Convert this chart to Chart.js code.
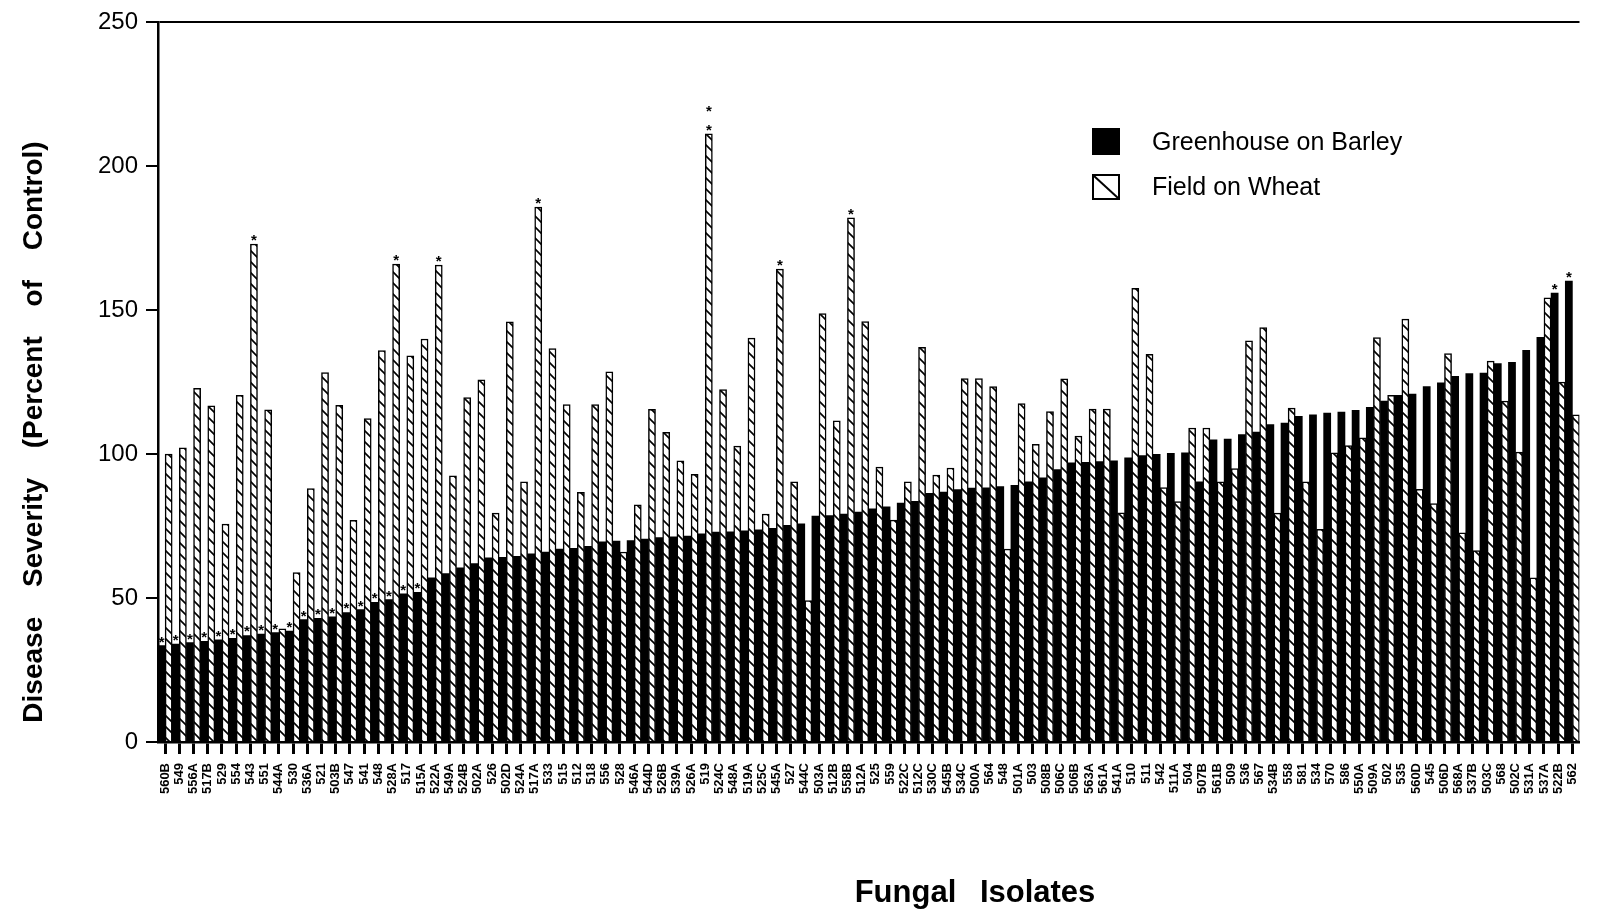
<!DOCTYPE html>
<html>
<head>
<meta charset="utf-8">
<title>Disease Severity of Fungal Isolates</title>
<script src="https://cdn.jsdelivr.net/npm/chart.js@4.4.0/dist/chart.umd.min.js"></script>
<style>
  html, body { margin: 0; padding: 0; background: #fff; }
  #wrap { width: 1597px; height: 910px; }
</style>
</head>
<body>
<div id="wrap"><canvas id="chart" width="1597" height="910"></canvas></div>
<script>
const isolates = [
  "560B", "549", "556A", "517B", "529", "554", "543", "551", "544A", "530",
  "536A", "521", "503B", "547", "541", "548", "528A", "517", "515A", "522A",
  "549A", "524B", "502A", "526", "502D", "524A", "517A", "533", "515", "512",
  "518", "556", "528", "546A", "544D", "526B", "539A", "526A", "519", "524C",
  "548A", "519A", "525C", "545A", "527", "544C", "503A", "512B", "558B", "512A",
  "525", "559", "522C", "512C", "530C", "545B", "534C", "500A", "564", "548",
  "501A", "503", "508B", "506C", "506B", "563A", "561A", "541A", "510", "511",
  "542", "511A", "504", "507B", "561B", "509", "536", "567", "534B", "558",
  "581", "534", "570", "586", "550A", "509A", "502", "535", "560D", "545",
  "506D", "568A", "537B", "503C", "568", "502C", "531A", "537A", "522B", "562"
];

// Greenhouse on Barley (black bars)
const greenhouseBarley = [
  33.5, 34, 34.5, 35, 35.5, 36, 37, 37.5, 38, 38.5,
  42.5, 43, 43.5, 45, 46, 48.5, 49.5, 51.5, 52, 57,
  58.5, 60.5, 62, 64, 64.2, 64.5, 65.4, 66, 67, 67.3,
  68, 69.5, 69.8, 70, 70.5, 71, 71.3, 71.5, 72.3, 72.9,
  73, 73.4, 73.7, 74.2, 75.3, 75.8, 78.5, 78.7, 79.2, 79.9,
  81, 81.7, 83, 83.6, 86.4, 86.8, 87.7, 88.2, 88.3, 88.7,
  89.2, 90.4, 91.8, 94.6, 97, 97.2, 97.4, 97.7, 98.7, 99.5,
  99.9, 100.3, 100.5, 90.4, 105, 105.2, 106.8, 107.7, 110.3, 110.8,
  113.1, 113.7, 114.3, 114.6, 115.2, 116.3, 118.4, 120.4, 120.9, 123.5,
  124.8, 127, 128, 128.2, 131.5, 131.9, 136.1, 140.6, 156, 160.1
];

// Field on Wheat (hatched bars)
const fieldWheat = [
  100, 102.2, 122.9, 116.8, 75.7, 120.4, 173, 115.4, 39.3, 58.9,
  88, 128.3, 117, 77, 112.4, 136, 166, 134.2, 140, 165.7,
  92.5, 119.7, 125.8, 79.5, 146, 90.4, 185.8, 136.7, 117.2, 86.7,
  117.2, 128.6, 66, 82.4, 115.6, 107.6, 97.7, 93, 211.3, 122.4,
  102.8, 140.3, 79.2, 164.3, 90.4, 49.1, 148.8, 111.6, 182.1, 146.1,
  95.5, 77.1, 90.4, 137.1, 92.7, 95.2, 126.3, 126.3, 123.5, 67,
  117.6, 103.4, 114.8, 126.2, 106.3, 115.7, 115.7, 79.6, 157.6, 134.7,
  88.4, 83.5, 109.1, 109.1, 90.4, 95, 139.4, 144, 79.5, 116,
  90.4, 73.9, 100.5, 103, 105.7, 140.5, 120.4, 146.9, 87.8, 82.8,
  134.9, 72.7, 66.5, 132.3, 118.4, 100.7, 57, 154.3, 125, 113.7
];

// bars marked with an asterisk (index into isolates; repeated index = two asterisks)
const greenhouseStars = [0, 1, 2, 3, 4, 5, 6, 7, 8, 9, 10, 11, 12, 13, 14, 15, 16, 17, 18, 98, 99];
const fieldStars = [6, 16, 19, 26, 38, 38, 43, 48];

const yTicks = [0, 50, 100, 150, 200, 250];

const FONT = '"Liberation Sans", Arial, Helvetica, sans-serif';

function hatchPattern(ctx) {
  const s = 11;
  const c = document.createElement("canvas");
  c.width = s;
  c.height = s;
  const g = c.getContext("2d");
  g.fillStyle = "#fff";
  g.fillRect(0, 0, s, s);
  g.strokeStyle = "#000";
  g.lineWidth = 1.6;
  g.beginPath();
  g.moveTo(-1, -1); g.lineTo(s + 1, s + 1);
  g.moveTo(-1, s - 1); g.lineTo(1, s + 1);
  g.moveTo(s - 1, -1); g.lineTo(s + 1, 1);
  g.stroke();
  return ctx.createPattern(c, "repeat");
}

const canvas = document.getElementById("chart");
const ctx = canvas.getContext("2d");
const hatch = hatchPattern(ctx);

const extras = {
  id: "extras",
  afterDatasetsDraw(chart) {
    const c = chart.ctx;
    c.save();
    c.fillStyle = "#000";
    c.textAlign = "center";
    c.textBaseline = "alphabetic";
    c.font = "bold 15px " + FONT;
    [[0, greenhouseStars], [1, fieldStars]].forEach(([di, list]) => {
      const meta = chart.getDatasetMeta(di);
      const seen = {};
      list.forEach((i) => {
        const bar = meta.data[i];
        const n = seen[i] || 0;
        seen[i] = n + 1;
        c.fillText("*", bar.x, bar.y + 1 - n * 19);
      });
    });
    c.restore();
  },
  afterDraw(chart) {
    const c = chart.ctx;
    c.save();
    c.fillStyle = "#000";

    // y axis title
    c.save();
    c.translate(34, 432);
    c.rotate(-Math.PI / 2);
    c.textAlign = "center";
    c.textBaseline = "middle";
    c.font = "bold 28px " + FONT;
    if ("wordSpacing" in c) c.wordSpacing = "22px";
    c.fillText("Disease Severity (Percent of Control)", 0, 0);
    c.restore();

    // x axis title
    c.save();
    c.textAlign = "center";
    c.textBaseline = "middle";
    c.font = "bold 31px " + FONT;
    if ("wordSpacing" in c) c.wordSpacing = "15px";
    c.fillText("Fungal Isolates", 975, 893);
    c.restore();

    // legend
    const ds = chart.data.datasets;
    c.font = "25px " + FONT;
    c.textAlign = "left";
    c.textBaseline = "middle";
    c.fillStyle = ds[0].backgroundColor;
    c.fillRect(1092, 128, 28, 27);
    c.fillStyle = "#000";
    c.fillText(ds[0].label, 1152, 143);

    c.fillStyle = "#fff";
    c.fillRect(1093, 175, 26, 24);
    c.strokeStyle = "#000";
    c.lineWidth = 2;
    c.strokeRect(1093, 175, 26, 24);
    c.beginPath();
    c.moveTo(1094, 176);
    c.lineTo(1118, 198);
    c.stroke();
    c.fillStyle = "#000";
    c.fillText(ds[1].label, 1152, 188);
    c.restore();
  }
};

new Chart(ctx, {
  type: "bar",
  data: {
    labels: isolates,
    datasets: [
      {
        label: "Greenhouse on Barley",
        data: greenhouseBarley,
        backgroundColor: "#000",
        borderWidth: 0,
        barPercentage: 1,
        categoryPercentage: 1,
      },
      {
        label: "Field on Wheat",
        data: fieldWheat,
        backgroundColor: hatch,
        borderColor: "#000",
        borderWidth: 1.5,
        barPercentage: 1,
        categoryPercentage: 1,
      },
    ],
  },
  options: {
    responsive: false,
    animation: false,
    devicePixelRatio: 1,
    layout: { padding: { top: 19, right: 0, left: 0, bottom: 0 } },
    plugins: {
      legend: { display: false },
      tooltip: { enabled: false },
    },
    scales: {
      x: {
        offset: true,
        grid: {
          offset: false,
          drawOnChartArea: false,
          drawTicks: true,
          tickLength: 12,
          tickWidth: 3,
          tickColor: "#000",
        },
        border: { display: true, color: "#000", width: 2.5 },
        ticks: {
          autoSkip: false,
          maxRotation: 90,
          minRotation: 90,
          padding: 9,
          color: "#000",
          font: { family: FONT, size: 13, weight: "bold" },
        },
        afterFit(scale) { scale.height = 168; },
      },
      y: {
        min: 0,
        max: 250,
        afterBuildTicks(scale) { scale.ticks = yTicks.map((v) => ({ value: v })); },
        grid: {
          color: (c) => (c.tick && c.tick.value === 250 ? "#000" : "rgba(0,0,0,0)"),
          lineWidth: 2,
          tickColor: "#000",
          tickLength: 12,
          tickWidth: 2,
        },
        border: { display: true, color: "#000", width: 2.5 },
        ticks: {
          padding: 8,
          color: "#000",
          font: { family: FONT, size: 24 },
        },
        afterFit(scale) { scale.width = 158; },
      },
    },
  },
  plugins: [extras],
});
</script>
</body>
</html>
